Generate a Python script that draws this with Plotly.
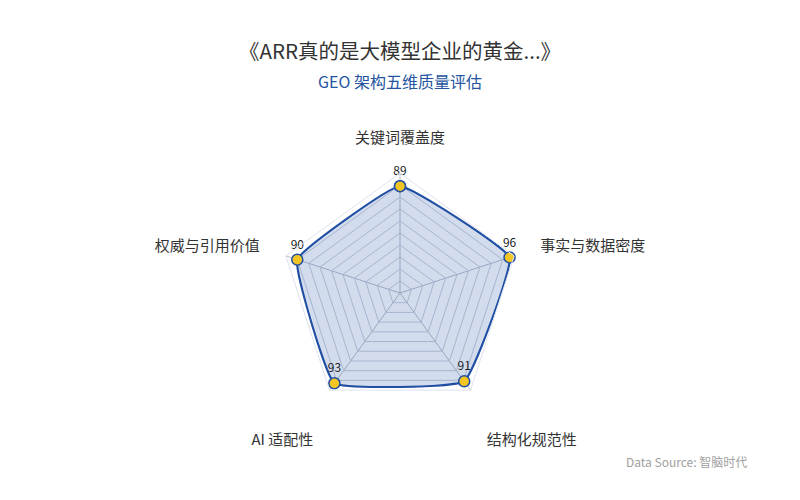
import plotly.graph_objects as go

# ---- data ----
categories = ['关键词覆盖度', '事实与数据密度', '结构化规范性', 'AI 适配性', '权威与引用价值']
scores = [89, 96, 91, 93, 90]

title_text = '《ARR真的是大模型企业的黄金...》'
subtitle_text = 'GEO 架构五维质量评估'
source_text = 'Data Source: 智脑时代'

FONT = 'Noto Sans CJK SC, Noto Sans, sans-serif'
LINE_BLUE = '#1f4ea3'

# close the loop
r_closed = scores + [scores[0]]
theta_closed = categories + [categories[0]]
text_closed = [str(v) for v in scores] + ['']

# bottom labels sit a bit further out in the original, push them down one line
tick_text = ['<br>' + c if i in (2, 3) else c for i, c in enumerate(categories)]

fig = go.Figure()

fig.add_trace(go.Scatterpolar(
    r=r_closed,
    theta=theta_closed,
    mode='lines+markers+text',
    fill='toself',
    fillcolor='rgba(31, 78, 163, 0.2)',
    line=dict(color=LINE_BLUE, width=2, shape='spline', smoothing=0.3),
    marker=dict(size=11, color='#f3c623', line=dict(color=LINE_BLUE, width=1.5)),
    text=text_closed,
    textposition='top center',
    textfont=dict(family=FONT, size=12, color='#222'),
    hoverinfo='skip',
    showlegend=False,
))

fig.update_layout(
    width=800,
    height=500,
    margin=dict(l=0, r=0, t=0, b=0),
    paper_bgcolor='white',
    font=dict(family=FONT, color='#333'),
    showlegend=False,
    polar=dict(
        domain=dict(x=[0, 1], y=[0.174, 0.654]),
        gridshape='linear',
        bgcolor='white',
        radialaxis=dict(
            range=[0, 100],
            dtick=10,
            showticklabels=False,
            ticks='',
            showline=False,
            gridcolor='#c9ced8',
            gridwidth=0.8,
        ),
        angularaxis=dict(
            rotation=90,
            direction='clockwise',
            tickmode='array',
            tickvals=categories,
            ticktext=tick_text,
            linecolor='#dde3ee',
            linewidth=1,
            gridcolor='#b8bdc8',
            ticks='outside',
            ticklen=24,
            tickcolor='rgba(0,0,0,0)',
            tickfont=dict(family=FONT, size=15, color='#333'),
        ),
    ),
    annotations=[
        dict(text=title_text, x=400, y=50,
             font=dict(family=FONT, size=20.5, color='#333')),
        dict(text=subtitle_text, x=400, y=81,
             font=dict(family=FONT, size=16, color='#2554a0')),
        dict(text=source_text, x=686, y=461,
             font=dict(family=FONT, size=12, color='#a0a0a0')),
    ],
)

# annotation positions given in pixels above; convert to paper fractions
for ann in fig.layout.annotations:
    ann.update(x=ann.x / 800, y=1 - ann.y / 500, xref='paper', yref='paper',
               xanchor='center', yanchor='middle', showarrow=False)

fig.write_html('out.html', config={'displayModeBar': False},
               post_script="document.body.style.margin='0';")
